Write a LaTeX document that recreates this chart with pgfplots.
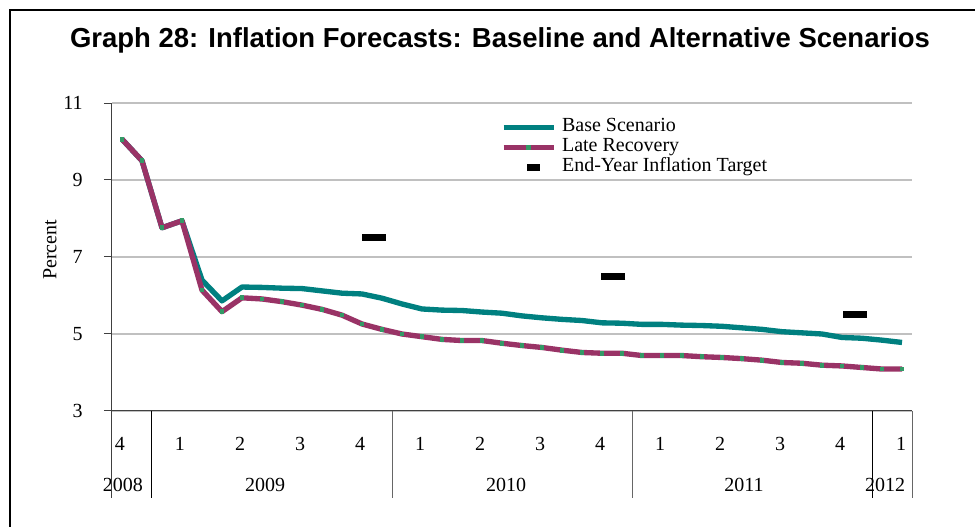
\documentclass[border=0pt]{standalone}
\usepackage{fontspec}
\setmainfont{Liberation Serif}
\newfontfamily\arialfont{Liberation Sans}
\usepackage{pgfplots}
\pgfplotsset{compat=1.18}
\definecolor{baseteal}{RGB}{0,128,128}
\definecolor{latemaroon}{RGB}{153,51,102}
\definecolor{dotgreen}{RGB}{51,153,102}
\definecolor{gridgray}{RGB}{192,192,192}

\pgfplotstableread{
x base late
0 10.06 10.06
1 9.50 9.50
2 7.76 7.76
3 7.94 7.94
4 6.40 6.14
5 5.86 5.58
6 6.22 5.94
7 6.21 5.91
8 6.19 5.84
9 6.18 5.75
10 6.12 5.64
11 6.06 5.49
12 6.04 5.26
13 5.93 5.12
14 5.78 5.00
15 5.65 4.93
16 5.62 4.86
17 5.61 4.83
18 5.57 4.83
19 5.54 4.76
20 5.47 4.70
21 5.42 4.65
22 5.38 4.58
23 5.35 4.52
24 5.29 4.50
25 5.28 4.50
26 5.25 4.44
27 5.25 4.44
28 5.23 4.44
29 5.22 4.41
30 5.20 4.39
31 5.16 4.36
32 5.12 4.32
33 5.06 4.26
34 5.03 4.24
35 5.00 4.19
36 4.91 4.17
37 4.89 4.13
38 4.84 4.09
39 4.78 4.09
}\inflation

\begin{document}
\begin{tikzpicture}
% frame, title and y label, laid out in pixel units of the reference
\begin{scope}[x=0.75pt,y=-0.75pt,shift={(-112,-411)}]
  \useasboundingbox (0,0) rectangle (975,527);
  \draw[line width=1.5pt] (10,560) -- (10,10) -- (1000,10);
  \node[font=\arialfont\bfseries\fontsize{20.6pt}{24pt}\selectfont, anchor=base]
    at (500,48) {Graph 28: Inflation Forecasts: Baseline and Alternative Scenarios};
  \node[rotate=90, font=\fontsize{15pt}{18pt}\selectfont] at (50,250) {Percent};
\end{scope}

\begin{axis}[
  at={(0,0)}, anchor=south west,
  scale only axis, width=600pt, height=231pt,
  xmin=-0.5, xmax=39.5, ymin=3, ymax=11,
  axis x line*=bottom, axis y line*=left,
  axis line style={black!75, line width=0.75pt},
  ytick={3,5,7,9,11},
  ymajorgrids, grid style={gridgray, line width=1pt},
  tick align=outside, major tick length=6pt,
  ytick style={black!75, line width=0.75pt},
  xtick={-0.1,2.9,5.9,8.9,11.9,14.9,17.9,20.9,23.9,26.9,29.9,32.9,35.9,38.95},
  xticklabels={4,1,2,3,4,1,2,3,4,1,2,3,4,1},
  xtick style={draw=none},
  extra x ticks={0.05,7.15,19.2,31.1,38.15},
  extra x tick labels={2008,2009,2010,2011,2012},
  extra x tick style={major tick length=0pt, xtick style={draw=none},
    xticklabel style={yshift=-36.75pt}},
  tick label style={font=\fontsize{15pt}{18pt}\selectfont},
  xticklabel style={anchor=center, yshift=-18.75pt},
  yticklabel style={anchor=east, inner sep=0pt, xshift=-15.75pt},
  /pgf/number format/assume math mode=true,
  clip=false,
  legend cell align=left,
  legend image code/.code={\draw[mark repeat=2,mark phase=2,#1]
    plot coordinates {(0pt,0pt) (18.75pt,0pt) (37.5pt,0pt)};},
  legend style={at={(axis description cs:0.486,0.9545)}, anchor=north west,
    draw=none, fill=none, inner sep=0pt, row sep=0pt, column sep=3.25pt,
    font=\fontsize{15pt}{15pt}\selectfont,
    nodes={inner sep=1pt, text height=10pt, text depth=3pt}},
]
\addplot[color=baseteal, line width=4pt, line join=round, mark=none]
  table[x=x, y=base] {\inflation};
\addlegendentry{Base Scenario}
\addplot[color=latemaroon, line width=4pt, line join=round,
  mark=square*, mark size=1.4pt,
  mark options={line width=0pt, draw=dotgreen, fill=dotgreen}]
  table[x=x, y=late] {\inflation};
\addlegendentry{Late Recovery}
\addplot[only marks, mark=-, mark size=9pt, mark options={line width=5.25pt, black},
  legend image code/.code={\fill[black] (17.5pt,-1.9pt) rectangle (26.5pt,1.9pt);}]
  coordinates {(12.58,7.5) (24.57,6.5) (36.65,5.5)};
\addlegendentry{End-Year Inflation Target}
% year and category separators below the axis
\draw[black!75, line width=0.75pt] (axis cs:-0.5,3) -- (axis cs:-0.5,0.74);
\draw[black, line width=0.75pt] (axis cs:1.5,3) -- (axis cs:1.5,0.74);
\draw[black!60, line width=0.75pt] (axis cs:13.5,3) -- (axis cs:13.5,0.74);
\draw[black!60, line width=0.75pt] (axis cs:25.5,3) -- (axis cs:25.5,0.74);
\draw[black, line width=0.75pt] (axis cs:37.5,3) -- (axis cs:37.5,0.74);
\draw[black!60, line width=0.75pt] (axis cs:39.5,3) -- (axis cs:39.5,0.74);
\end{axis}
\end{tikzpicture}
\end{document}
